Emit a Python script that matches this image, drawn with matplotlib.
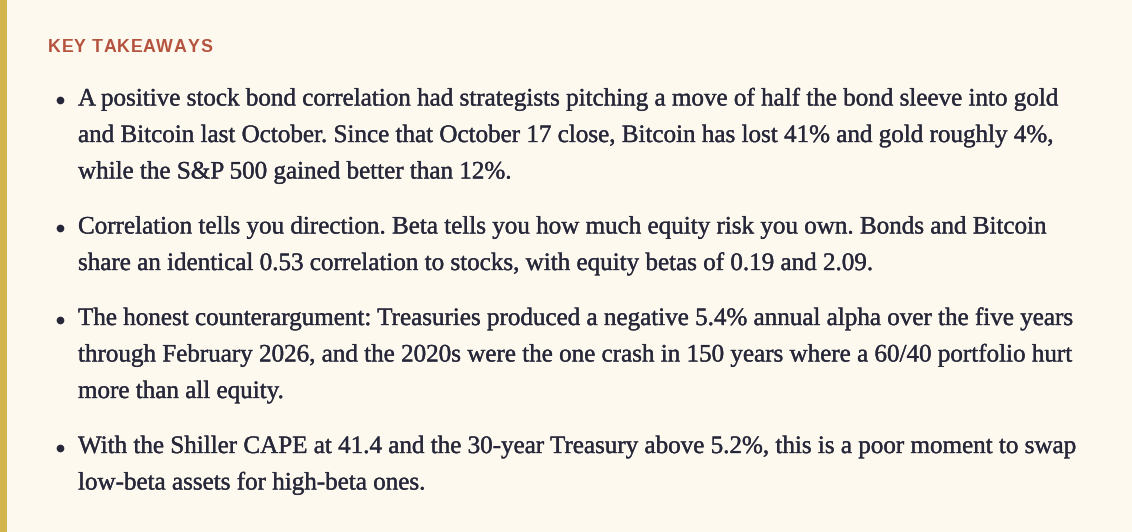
import matplotlib
matplotlib.use("Agg")
import matplotlib.pyplot as plt
import matplotlib.patheffects as pe

# content
title = "KEY TAKEAWAYS"
bullets = [
    ["A positive stock bond correlation had strategists pitching a move of half the bond sleeve into gold",
     "and Bitcoin last October. Since that October 17 close, Bitcoin has lost 41% and gold roughly 4%,",
     "while the S&P 500 gained better than 12%."],
    ["Correlation tells you direction. Beta tells you how much equity risk you own. Bonds and Bitcoin",
     "share an identical 0.53 correlation to stocks, with equity betas of 0.19 and 2.09."],
    ["The honest counterargument: Treasuries produced a negative 5.4% annual alpha over the five years",
     "through February 2026, and the 2020s were the one crash in 150 years where a 60/40 portfolio hurt",
     "more than all equity."],
    ["With the Shiller CAPE at 41.4 and the 30-year Treasury above 5.2%, this is a poor moment to swap",
     "low-beta assets for high-beta ones."],
]

bg = "#fdf9ef"
gold = "#d4b44c"
red = "#b5533f"
ink = "#27273a"

W, H = 1132, 532
fig = plt.figure(figsize=(W / 100, H / 100), dpi=100, facecolor=bg)
ax = fig.add_axes([0, 0, 1, 1])
ax.set_xlim(0, W)
ax.set_ylim(H, 0)
ax.axis("off")
ax.set_facecolor(bg)

# gold rule on the left
ax.axvspan(0, 7, color=gold, lw=0)

renderer = fig.canvas.get_renderer()

# header, letter-spaced by hand (48 -> 212 px)
chars = []
widths = []
for ch in title:
    t = ax.text(0, 52.5, ch, color=red, fontsize=12.8, fontweight="bold",
                family="Liberation Sans", va="baseline", ha="left")
    chars.append(t)
    widths.append(t.get_window_extent(renderer).width if ch != " " else 4.5)
gap = (212 - 48 - sum(widths)) / (len(title) - 1)
x = 48
for t, w in zip(chars, widths):
    t.set_x(x)
    x += w + gap

# body text
x_text, x_bullet = 78, 60
y = 105.5
line_h = 36.5
para_gap = 55
texts = []
stroke = [pe.withStroke(linewidth=0.25, foreground=ink)]
for para in bullets:
    ax.plot(x_bullet, y - 5.5, "o", color=ink, ms=4.5)
    for i, line in enumerate(para):
        texts.append(ax.text(x_text, y, line, color=ink, fontsize=15,
                             family="Liberation Serif", va="baseline", ha="left",
                             path_effects=stroke))
        if i < len(para) - 1:
            y += line_h
    y += para_gap

# one font size for all lines, fitted on the first line (78 -> 1063 px)
w0 = texts[0].get_window_extent(renderer).width
fs = 15 * 985 / w0
for tx in texts:
    tx.set_fontsize(fs)

fig.savefig("out.png", dpi=100, facecolor=bg)
